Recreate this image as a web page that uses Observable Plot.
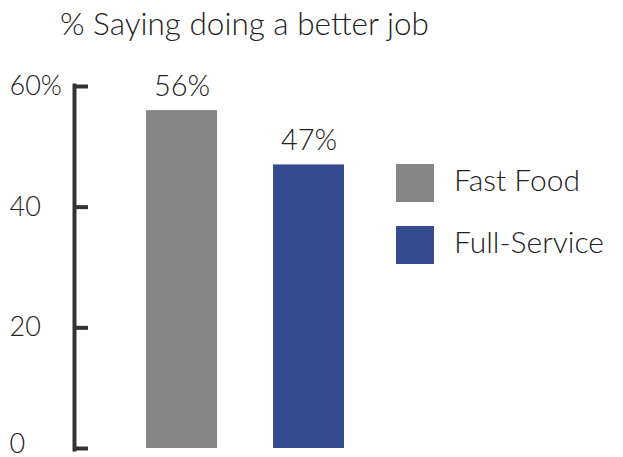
<!DOCTYPE html>
<html>
<head>
<meta charset="utf-8">
<script src="https://cdn.jsdelivr.net/npm/d3@7"></script>
<script src="https://cdn.jsdelivr.net/npm/@observablehq/plot@0.6"></script>
<style>
  html, body { margin: 0; padding: 0; background: #fff; }
  #wrap { position: relative; width: 623px; height: 457px; font-family: Lato, "Open Sans", sans-serif; font-weight: 300; color: #222; }
  #title { height: 46px; line-height: 46px; padding-left: 60px; font-size: 31.5px; white-space: nowrap; }
  #legend { position: absolute; left: 396px; top: 164px; }
  .item { display: flex; align-items: center; height: 38px; margin-bottom: 24px; font-size: 30px; }
  .item span { position: relative; top: -4px; }
  .sw { width: 38px; height: 38px; margin-right: 20px; }
  svg { display: block; }
</style>
</head>
<body>
<div id="wrap">
  <div id="title"></div>
  <div id="chart"></div>
  <div id="legend"></div>
</div>
<script>
const titleText = "% Saying doing a better job";
const categories = ["Fast Food", "Full-Service"];
const values = [56, 47];
const colors = ["#858585", "#354a8f"];
const yTicks = [0, 20, 40, 60];
const yTickLabels = ["0", "20", "40", "60%"];

const data = categories.map((c, i) => ({cat: c, value: values[i]}));
const tickData = yTicks.map((t, i) => ({t, label: yTickLabels[i]}));

document.getElementById("title").textContent = titleText;

const chart = Plot.plot({
  width: 623,
  height: 411,
  marginTop: 40,
  marginBottom: 9,
  marginLeft: 74,
  marginRight: 206,
  style: {fontFamily: "Lato, 'Open Sans', sans-serif", fontWeight: 300, background: "transparent"},
  x: {domain: categories, paddingInner: 0.44, paddingOuter: 0.565, axis: null},
  y: {domain: [0, 60], axis: null},
  color: {domain: categories, range: colors},
  marks: [
    Plot.barY(data, {x: "cat", y: "value", fill: "cat"}),
    Plot.text(data, {x: "cat", y: "value", text: d => d.value + "%", lineAnchor: "bottom", dy: -15, fontSize: 29, fill: "#222"}),
    Plot.ruleY(yTicks, {y: d => d, stroke: "#333", strokeWidth: 4, insetRight: 329}),
    Plot.frame({anchor: "left", stroke: "#333", strokeWidth: 4, insetTop: -1, insetBottom: -1}),
    Plot.text(tickData.filter(d => d.t > 0), {y: "t", text: "label", frameAnchor: "left", dx: -65, dy: 0, textAnchor: "start", fontSize: 27, fill: "#222"}),
    Plot.text(tickData.filter(d => d.t === 0), {y: "t", text: "label", frameAnchor: "left", dx: -65, dy: 4, lineAnchor: "bottom", textAnchor: "start", fontSize: 27, fill: "#222"})
  ]
});
document.getElementById("chart").appendChild(chart);

const legend = document.getElementById("legend");
categories.forEach((c, i) => {
  const item = document.createElement("div");
  item.className = "item";
  const sw = document.createElement("div");
  sw.className = "sw";
  sw.style.background = colors[i];
  const label = document.createElement("span");
  label.textContent = c;
  item.appendChild(sw);
  item.appendChild(label);
  legend.appendChild(item);
});
</script>
</body>
</html>
